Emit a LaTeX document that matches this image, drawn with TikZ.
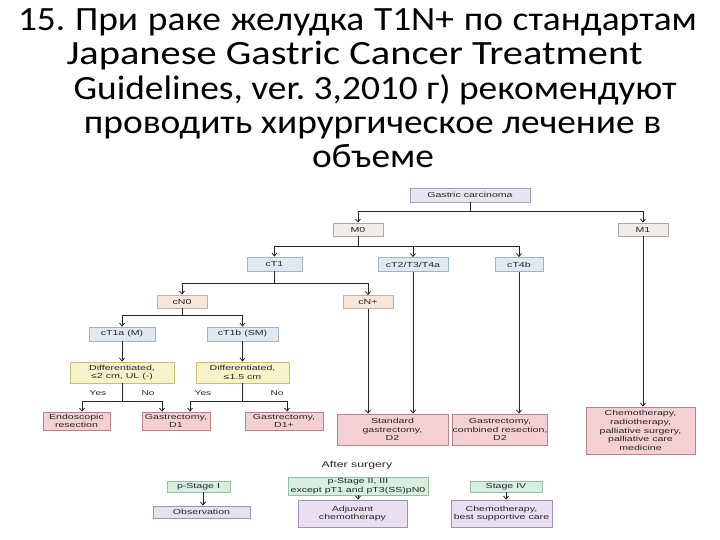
\documentclass[tikz,border=0pt]{standalone}
\usepackage{fontspec}
\usetikzlibrary{arrows.meta}
\setmainfont{Carlito}
\newfontfamily\ttlfont[FakeStretch=1.1]{Carlito}
\newfontfamily\ttlwide[FakeStretch=1.19]{Carlito}
\newfontfamily\diag[FakeStretch=1.45]{Liberation Sans}
\definecolor{gcF}{HTML}{E6E6F2}\definecolor{gcD}{HTML}{A0A0B8}
\definecolor{mF}{HTML}{F2ECE8}\definecolor{mD}{HTML}{B0A8A0}
\definecolor{bF}{HTML}{DFE9EF}\definecolor{bD}{HTML}{9FB4C4}
\definecolor{pF}{HTML}{F9E6DA}\definecolor{pD}{HTML}{C8B0A0}
\definecolor{yF}{HTML}{F7F3C8}\definecolor{yD}{HTML}{C8C070}
\definecolor{rF}{HTML}{F4D0D4}\definecolor{rD}{HTML}{C08088}
\definecolor{gF}{HTML}{D6EFE0}\definecolor{gD}{HTML}{90C0A0}
\definecolor{lF}{HTML}{E8E0F0}\definecolor{lD}{HTML}{A090B8}
\tikzset{
  box/.style={draw, line width=0.8pt, inner sep=0pt, align=center,
    font=\diag\fontsize{7.3}{8.6}\selectfont, text=black!85},
  ttl/.style={anchor=base, inner sep=0pt, font=\ttlfont\fontsize{34}{34}\selectfont\frenchspacing},
  arr/.style={-{Straight Barb[length=3pt,width=5pt]}, line width=0.8pt, draw=black!85},
  ln/.style={line width=0.8pt, draw=black!85},
  lbl/.style={font=\diag\fontsize{7}{8}\selectfont, inner sep=0pt, text=black!85}
}
\begin{document}
\begin{tikzpicture}[x=1pt,y=-1pt]
\useasboundingbox (0,0) rectangle (720,540);
% title
\node[ttl] (t1) at (357.5,31) {\makebox[679pt][s]{15. При раке желудка T1N+ по стандартам}};
\node[ttl, font=\ttlwide\fontsize{34}{34}\selectfont] (t2) at (354.5,65) {Japanese Gastric Cancer Treatment};
\node[ttl] (t3) at (375,100) {Guidelines, ver. 3,2010 г) рекомендуют};
\node[ttl] (t4) at (372.5,134) {проводить хирургическое лечение в};
\node[ttl] (t5) at (373,168) {объеме};
% boxes
\node[box, fill=gcF, draw=gcD, minimum width=120, minimum height=14] (gc) at (470,195) {Gastric carcinoma};
\node[box, fill=mF, draw=mD, minimum width=50, minimum height=13] (m0) at (358,229.5) {M0};
\node[box, fill=mF, draw=mD, minimum width=50, minimum height=13] (m1) at (643,229.5) {M1};
\node[box, fill=bF, draw=bD, minimum width=55, minimum height=14] (ct1) at (274.5,264) {cT1};
\node[box, fill=bF, draw=bD, minimum width=70, minimum height=14] (ct2) at (413,264.5) {cT2/T3/T4a};
\node[box, fill=bF, draw=bD, minimum width=48, minimum height=14] (ct4b) at (519,264.5) {cT4b};
\node[box, fill=pF, draw=pD, minimum width=50, minimum height=13] (cn0) at (182,301.5) {cN0};
\node[box, fill=pF, draw=pD, minimum width=50, minimum height=13] (cnp) at (368,302) {cN+};
\node[box, fill=bF, draw=bD, minimum width=66, minimum height=14] (ct1a) at (122,334) {cT1a (M)};
\node[box, fill=bF, draw=bD, minimum width=71, minimum height=14] (ct1b) at (242.5,334) {cT1b (SM)};
\node[box, fill=yF, draw=yD, minimum width=104, minimum height=21] (d1) at (122,372.5) {Differentiated,\\ ≤2 cm, UL (-)};
\node[box, fill=yF, draw=yD, minimum width=93, minimum height=21] (d2) at (242.5,372.5) {Differentiated,\\ ≤1.5 cm};
\node[box, fill=rF, draw=rD, minimum width=67, minimum height=18] (er) at (76.5,421) {Endoscopic\\ resection};
\node[box, fill=rF, draw=rD, minimum width=68, minimum height=18] (g1) at (176,421) {Gastrectomy,\\ D1};
\node[box, fill=rF, draw=rD, minimum width=78, minimum height=18] (g1p) at (284,421) {Gastrectomy,\\ D1+};
\node[box, fill=rF, draw=rD, minimum width=111, minimum height=31] (sg) at (392.5,429.5) {Standard\\ gastrectomy,\\ D2};
\node[box, fill=rF, draw=rD, minimum width=72, minimum height=31] (gcr) at (500,429.5) {Gastrectomy,\\ combined resection,\\ D2};
\node[box, fill=rF, draw=rD, minimum width=109, minimum height=47] (ch) at (640.5,430.5) {Chemotherapy,\\ radiotherapy,\\ palliative surgery,\\ palliative care\\ medicine};
\node[lbl, font=\diag\fontsize{8.5}{9}\selectfont] (as) at (357,465) {After surgery};
\node[box, fill=gF, draw=gD, minimum width=63, minimum height=11] (ps1) at (198.5,486.5) {p-Stage I};
\node[box, fill=gF, draw=gD, minimum width=140, minimum height=18] (ps2) at (358,486) {p-Stage II, III\\ except pT1 and pT3(SS)pN0};
\node[box, fill=gF, draw=gD, minimum width=72, minimum height=11] (ps4) at (506,486.5) {Stage IV};
\node[box, fill=lF, draw=lD, minimum width=97, minimum height=12] (ob) at (201.5,512) {Observation};
\node[box, fill=lF, draw=lD, minimum width=109, minimum height=27] (ac) at (352.5,513.5) {Adjuvant\\ chemotherapy};
\node[box, fill=lF, draw=lD, minimum width=101, minimum height=27] (cb) at (501.5,513.5) {Chemotherapy,\\ best supportive care};
% connectors
\coordinate (b1) at (470,211);
\draw[ln] (gc.south) -- (b1);
\draw[arr] (b1) -| (m0);
\draw[arr] (b1) -| (m1);
\coordinate (b2) at (358,246);
\draw[ln] (m0.south) -- (b2);
\draw[arr] (b2) -| (ct1);
\draw[arr] (b2) -| (ct2);
\draw[arr] (b2) -| (ct4b);
\coordinate (b3) at (274.5,283);
\draw[ln] (ct1.south) -- (b3);
\draw[arr] (b3) -| (cn0);
\draw[arr] (b3) -| (cnp);
\coordinate (b4) at (182,315);
\draw[ln] (cn0.south) -- (b4);
\draw[arr] (b4) -| (ct1a);
\draw[arr] (b4) -| (ct1b);
\draw[arr] (ct1a) -- (d1);
\draw[arr] (ct1b) -- (d2);
\coordinate (b5) at (122,401);
\draw[ln] (d1.south) -- (b5);
\draw[arr] (b5) -| ([xshift=5.5pt]er.north);
\draw[arr] (b5) -| ([xshift=-14pt]g1.north);
\coordinate (b6) at (242.5,401);
\draw[ln] (d2.south) -- (b6);
\draw[arr] (b6) -| ([xshift=14pt]g1.north);
\draw[arr] (b6) -| ([xshift=3pt]g1p.north);
\node[lbl] (y1) at (98,393) {Yes};
\node[lbl] (n1) at (148,393) {No};
\node[lbl] (y2) at (203,393) {Yes};
\node[lbl] (n2) at (277,393) {No};
\draw[arr] (cnp) -- (cnp |- sg.north);
\draw[arr] (ct2) -- (ct2 |- sg.north);
\draw[arr] (ct4b) -- (ct4b |- gcr.north);
\draw[arr] (m1) -- (m1 |- ch.north);
\draw[arr] ([xshift=4.5pt]ps1.south) -- ([xshift=4.5pt]ps1.south |- ob.north);
\draw[arr] (ps2) -- (ps2 |- ac.north);
\draw[arr] (ps4) -- (ps4 |- cb.north);
\end{tikzpicture}
\end{document}
